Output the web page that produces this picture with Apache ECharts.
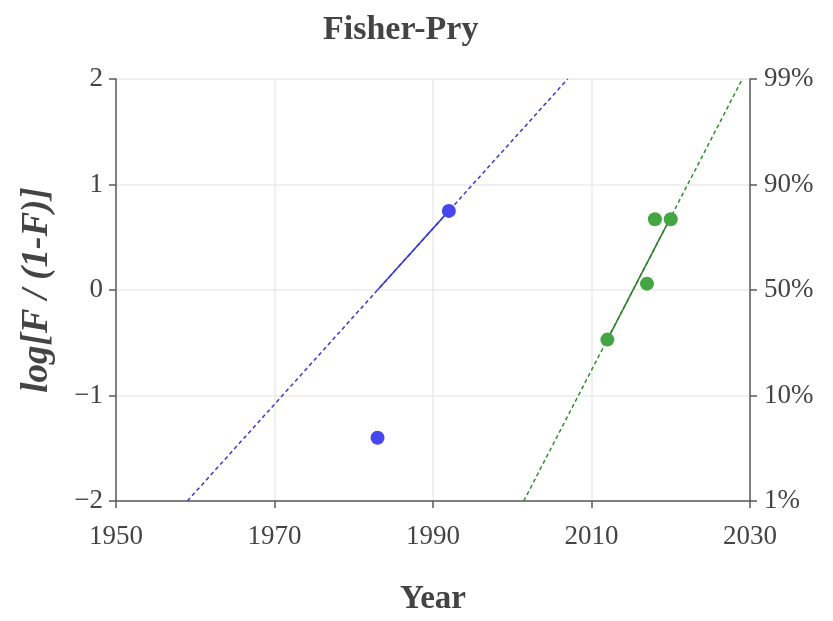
<!DOCTYPE html>
<html>
<head>
<meta charset="utf-8">
<script src="https://cdn.jsdelivr.net/npm/echarts@6/dist/echarts.min.js"></script>
<style>
  html, body { margin: 0; padding: 0; background: #fff; }
  #chart { width: 833px; height: 621px; }
</style>
</head>
<body>
<div id="chart"></div>
<script>
// Observed adoption shares, as log10(F / (1 - F)), by year
const blueYears = [1983, 1992];
const blueLogit = [-1.40, 0.75];
const greenYears = [2012, 2017, 2018, 2020];
const greenLogit = [-0.47, 0.06, 0.67, 0.67];

// Fitted logistic trends: fitted span (solid) and extrapolation (dashed)
const blueFitSolid = [[1983, 0.0], [1992, 0.75]];
const blueFitDashed = [[1959, -2.0], [2007, 2.0]];
const greenFitSolid = [[2012, -0.47], [2020, 0.69]];
const greenFitDashed = [[2001.45, -2.0], [2029.03, 2.0]];

// Axis ticks
const yearTicks = [1950, 1970, 1990, 2010, 2030];
const logitTicks = [-2, -1, 0, 1, 2];
const shareTickLabels = ['1%', '10%', '50%', '90%', '99%'];

const FONT = '"Liberation Serif", "Times New Roman", serif';
const TEXT = '#444';
const AXIS = '#5a5a5a';
const GRID = '#ebebeb';

const pairs = (xs, ys) => xs.map((x, i) => [x, ys[i]]);

const chart = echarts.init(document.getElementById('chart'), null, { renderer: 'canvas' });

chart.setOption({
  backgroundColor: '#fff',
  animation: false,
  title: {
    text: 'Fisher-Pry',
    left: 318,
    top: 8,
    textStyle: { fontFamily: FONT, fontSize: 34, fontWeight: 'bold', color: TEXT }
  },
  grid: { left: 116, right: 83, top: 79, bottom: 116, containLabel: false },
  xAxis: {
    type: 'value',
    min: yearTicks[0],
    max: yearTicks[yearTicks.length - 1],
    interval: 20,
    name: 'Year',
    nameLocation: 'middle',
    nameGap: 82,
    nameTextStyle: { fontFamily: FONT, fontSize: 33, fontWeight: 'bold', color: TEXT },
    axisLine: { onZero: false, lineStyle: { color: AXIS, width: 1.5 } },
    axisTick: { show: true, length: 7, lineStyle: { color: AXIS, width: 1.5 } },
    axisLabel: {
      fontFamily: FONT, fontSize: 27, color: TEXT, margin: 22,
      formatter: v => String(v)
    },
    splitLine: { show: true, lineStyle: { color: GRID, width: 1.5 } }
  },
  yAxis: [
    {
      type: 'value',
      min: logitTicks[0],
      max: logitTicks[logitTicks.length - 1],
      interval: 1,
      name: 'log[F / (1-F)]',
      nameLocation: 'middle',
      nameGap: 60,
      nameRotate: 90,
      nameTextStyle: { fontFamily: FONT, fontSize: 37, fontWeight: 'bold', fontStyle: 'italic', color: TEXT },
      axisLine: { show: true, onZero: false, lineStyle: { color: AXIS, width: 1.5 } },
      axisTick: { show: true, length: 7, lineStyle: { color: AXIS, width: 1.5 } },
      axisLabel: {
        fontFamily: FONT, fontSize: 27, color: TEXT, margin: 13,
        formatter: v => (v < 0 ? '\u2212' + Math.abs(v) : String(v))
      },
      splitLine: { show: true, lineStyle: { color: GRID, width: 1.5 } }
    },
    {
      type: 'value',
      position: 'right',
      min: logitTicks[0],
      max: logitTicks[logitTicks.length - 1],
      interval: 1,
      axisLine: { show: true, onZero: false, lineStyle: { color: AXIS, width: 1.5 } },
      axisTick: { show: true, length: 7, lineStyle: { color: AXIS, width: 1.5 } },
      axisLabel: {
        fontFamily: FONT, fontSize: 27, color: TEXT, margin: 14,
        formatter: v => shareTickLabels[logitTicks.indexOf(Math.round(v))] || ''
      },
      splitLine: { show: false }
    }
  ],
  series: [
    {
      type: 'line', data: blueFitDashed, showSymbol: false, symbol: 'none',
      lineStyle: { color: '#3a3ad2', width: 1.5, type: [4, 3] }, z: 2
    },
    {
      type: 'line', data: blueFitSolid, showSymbol: false, symbol: 'none',
      lineStyle: { color: '#3a3ad2', width: 1.5 }, z: 3
    },
    {
      type: 'line', data: greenFitDashed, showSymbol: false, symbol: 'none',
      lineStyle: { color: '#2f8f2f', width: 1.5, type: [4, 3] }, z: 2
    },
    {
      type: 'line', data: greenFitSolid, showSymbol: false, symbol: 'none',
      lineStyle: { color: '#2f7f2f', width: 1.5 }, z: 3
    },
    {
      type: 'scatter', data: pairs(blueYears, blueLogit), symbolSize: 14,
      itemStyle: { color: '#4646ee', opacity: 1 }, z: 4
    },
    {
      type: 'scatter', data: pairs(greenYears, greenLogit), symbolSize: 14,
      itemStyle: { color: '#43a643', opacity: 1 }, z: 4
    }
  ]
});
</script>
</body>
</html>
